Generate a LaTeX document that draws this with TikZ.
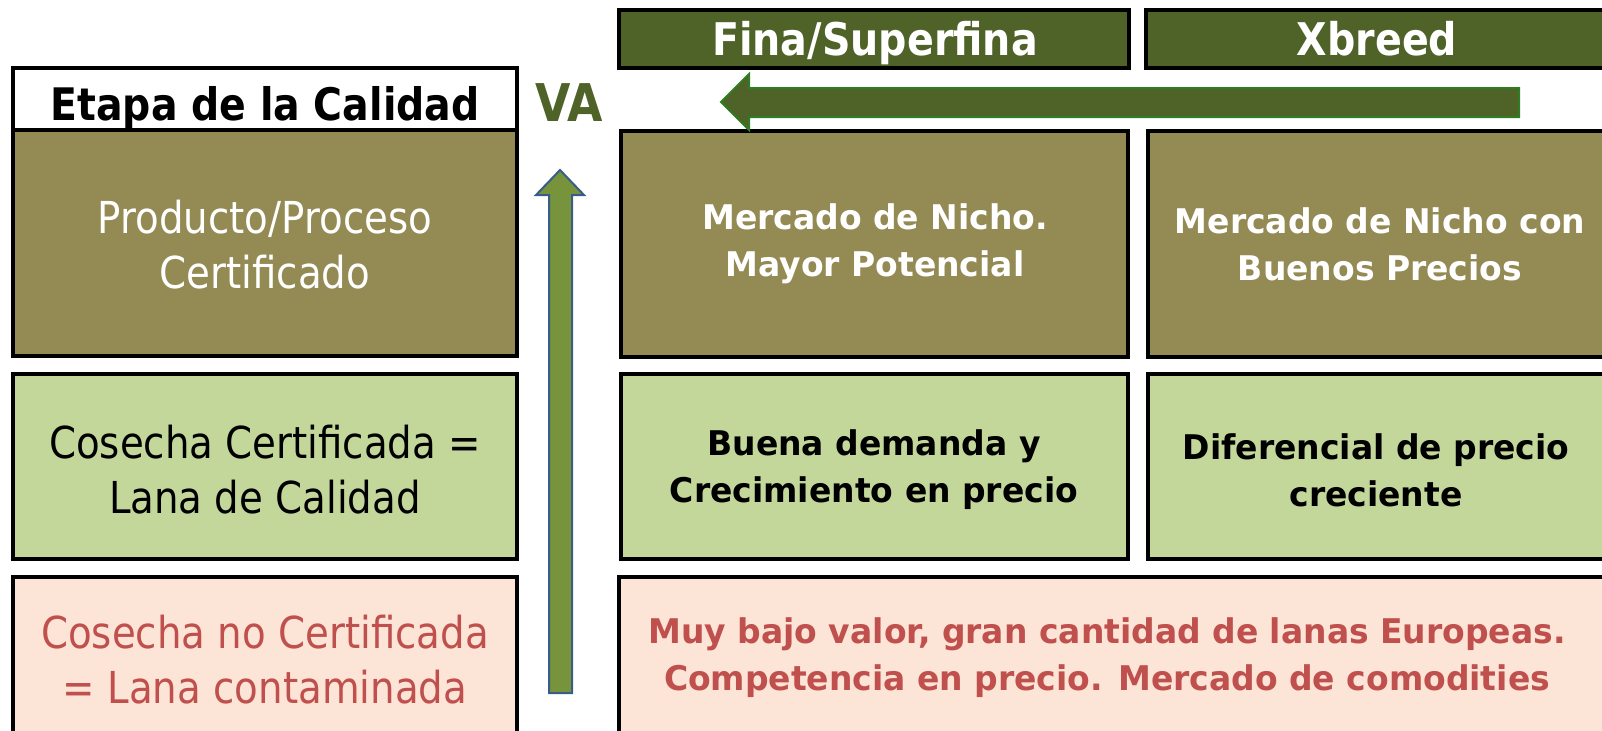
\documentclass[tikz,border=0pt]{standalone}
\usepackage{fontspec}
\setmainfont{DejaVu Sans}
\newfontfamily\narrowfont[FakeStretch=0.88]{DejaVu Sans}
\newfontfamily\cellfont[FakeStretch=0.97]{DejaVu Sans}
\definecolor{olivebg}{HTML}{948A54}
\definecolor{lightgreen}{HTML}{C4D79B}
\definecolor{peach}{HTML}{FCE4D6}
\definecolor{darkgreen}{HTML}{4F6228}
\definecolor{redtxt}{HTML}{C0504D}
\definecolor{arrowgreen}{HTML}{77933C}
\definecolor{arrowblue}{HTML}{385D8A}
\definecolor{arrowedge}{HTML}{2E7D22}
\begin{document}
\begin{tikzpicture}[x=0.5pt, y=-0.5pt,
    cellbox/.style = {draw=black, line width=1.8pt},
    lefttxt/.style = {align=center, font={\narrowfont\fontsize{22}{27.5}\selectfont}},
    righttxt/.style = {align=center, font={\cellfont\bfseries\fontsize{17}{23.5}\selectfont}},
    headtxt/.style = {anchor=base, text=white, font={\narrowfont\bfseries\fontsize{22.5}{27}\selectfont}}]
    \useasboundingbox (0,0) rectangle (1602,730);
    \clip (0,0) rectangle (1602,730);

    % left column
    \filldraw[cellbox, fill=white] (13,68) rectangle (517,130);
    \filldraw[cellbox, fill=olivebg] (13,130) rectangle (517,356);
    \filldraw[cellbox, fill=lightgreen] (13,374) rectangle (517,559);
    \filldraw[cellbox, fill=peach] (13,577) rectangle (517,740);

    % headers and right cells
    \filldraw[cellbox, fill=darkgreen] (619,10) rectangle (1129,68);
    \filldraw[cellbox, fill=darkgreen] (1146,10) rectangle (1612,68);
    \filldraw[cellbox, fill=olivebg] (621,131) rectangle (1128,357);
    \filldraw[cellbox, fill=olivebg] (1148,131) rectangle (1612,357);
    \filldraw[cellbox, fill=lightgreen] (621,374) rectangle (1128,559);
    \filldraw[cellbox, fill=lightgreen] (1148,374) rectangle (1612,559);
    \filldraw[cellbox, fill=peach] (619,577) rectangle (1612,740);

    % arrows
    \filldraw[fill=arrowgreen, draw=arrowblue, line width=1pt]
        (549,693) -- (549,195) -- (536,195) -- (560,170)
        -- (584,195) -- (572,195) -- (572,693) -- cycle;
    \filldraw[fill=darkgreen, draw=arrowedge, line width=1pt]
        (1519,88) -- (749,88) -- (749,74) -- (721,102)
        -- (749,130) -- (749,117) -- (1519,117) -- cycle;

    % texts
    \node[anchor=base, font={\narrowfont\bfseries\fontsize{22.4}{27}\selectfont}] (etapa) at (265,120) {Etapa de la Calidad};
    \node[anchor=base, text=darkgreen, font={\narrowfont\bfseries\fontsize{26}{30}\selectfont}] (va) at (569,121) {VA};
    \node[headtxt] (fina) at (875,55) {Fina/Superfina};
    \node[headtxt] (xbreed) at (1377,55) {Xbreed};

    \node[lefttxt, text=white] (prod) at (265,245) {Producto/Proceso\\Certificado};
    \node[lefttxt] (cosecha) at (265,470) {Cosecha Certificada =\\Lana de Calidad};
    \node[lefttxt, text=redtxt] (nocert) at (265,660) {Cosecha no Certificada\\= Lana contaminada};

    \node[righttxt, text=white] (nicho) at (875,244) {Mercado de Nicho.\\Mayor Potencial};
    \node[righttxt, text=white] (buenos) at (1380,244) {Mercado de Nicho con\\Buenos Precios};
    \node[righttxt] (demanda) at (874,470) {Buena demanda y\\Crecimiento en precio};
    \node[righttxt] (diferencial) at (1376,470) {Diferencial de precio\\creciente};
    \node[righttxt, text=redtxt] (comod) at (1107,658) {Muy bajo valor, gran cantidad de lanas Europeas.\\Competencia en precio. Mercado de comodities};
\end{tikzpicture}
\end{document}
